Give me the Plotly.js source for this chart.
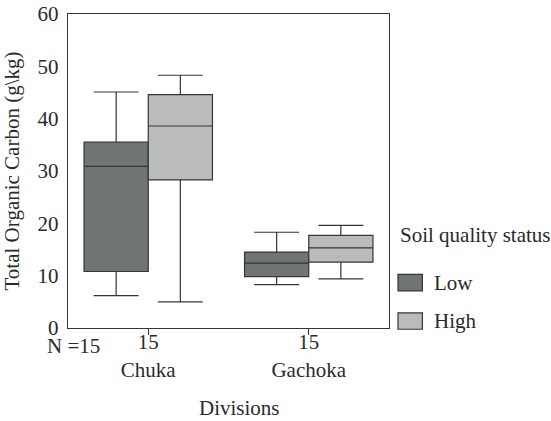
<!DOCTYPE html>
<html>
<head>
<meta charset="utf-8">
<script src="https://cdn.plot.ly/plotly-3.0.1.min.js"></script>
<style>html,body{margin:0;padding:0;background:#fff;}#chart{width:551px;height:421px;}</style>
</head>
<body>
<div id="chart"></div>
<script>
// Data
const divisions = ['Chuka', 'Gachoka'];
const nCounts = ['15', '15'];
const seriesNames = ['Low', 'High'];

const lowQ1 = [10.8, 9.8];
const lowMedian = [30.9, 12.4];
const lowQ3 = [35.5, 14.5];
const lowMin = [6.2, 8.3];
const lowMax = [45.1, 18.3];

const highQ1 = [28.3, 12.6];
const highMedian = [38.6, 15.3];
const highQ3 = [44.6, 17.7];
const highMin = [5.0, 9.4];
const highMax = [48.3, 19.6];

const yTicks = [0, 10, 20, 30, 40, 50, 60];

const lowColor = '#6f7571';
const highColor = '#b9bcba';
const lineColor = '#363636';
const fontFam = 'Liberation Serif, Times New Roman, serif';

const traces = [
  {
    type: 'box', name: seriesNames[0], x: divisions,
    q1: lowQ1, median: lowMedian, q3: lowQ3, lowerfence: lowMin, upperfence: lowMax,
    fillcolor: lowColor, line: {color: lineColor, width: 1.2},
    whiskerwidth: 0.7, showlegend: false, hoverinfo: 'skip'
  },
  {
    type: 'box', name: seriesNames[1], x: divisions,
    q1: highQ1, median: highMedian, q3: highQ3, lowerfence: highMin, upperfence: highMax,
    fillcolor: highColor, line: {color: lineColor, width: 1.2},
    whiskerwidth: 0.7, showlegend: false, hoverinfo: 'skip'
  }
];

const layout = {
  width: 551, height: 421,
  margin: {l: 68, r: 162, t: 14, b: 93},
  paper_bgcolor: '#ffffff', plot_bgcolor: '#ffffff',
  font: {family: fontFam, size: 21, color: '#2a2a2a'},
  boxmode: 'group', boxgap: 0.2, boxgroupgap: 0,
  showlegend: false,
  xaxis: {
    type: 'category',
    tickvals: divisions,
    ticktext: divisions.map((d, i) => nCounts[i] + '<br>' + d),
    showline: true, linecolor: lineColor, linewidth: 1.2, mirror: true,
    ticks: 'outside', ticklen: 6, tickcolor: lineColor,
    ticklabelstandoff: -11,
    showgrid: false, zeroline: false,
    tickfont: {family: fontFam, size: 21, color: '#2a2a2a'},
    range: [-0.5, 1.5]
  },
  yaxis: {
    range: [0, 60], tickvals: yTicks,
    showline: true, linecolor: lineColor, linewidth: 1.2, mirror: true,
    ticks: '', showgrid: false, zeroline: false,
    ticklabelstandoff: 4,
    tickfont: {family: fontFam, size: 21, color: '#2a2a2a'},
    title: {text: 'Total Organic Carbon (g\\kg)', font: {family: fontFam, size: 21, color: '#2a2a2a'}, standoff: 12}
  },
  shapes: [
    {type: 'rect', xref: 'paper', yref: 'paper', x0: 1.028, x1: 1.104, y0: 0.118, y1: 0.171,
     fillcolor: lowColor, line: {color: lineColor, width: 1.2}},
    {type: 'rect', xref: 'paper', yref: 'paper', x0: 1.028, x1: 1.104, y0: -0.004, y1: 0.048,
     fillcolor: highColor, line: {color: lineColor, width: 1.2}}
  ],
  annotations: [
    {text: 'Soil quality status', xref: 'paper', yref: 'paper', x: 1.027, y: 0.2955,
     xanchor: 'left', yanchor: 'middle', showarrow: false, font: {family: fontFam, size: 21, color: '#2a2a2a'}},
    {text: seriesNames[0], xref: 'paper', yref: 'paper', x: 1.134, y: 0.1434,
     xanchor: 'left', yanchor: 'middle', showarrow: false, font: {family: fontFam, size: 21, color: '#2a2a2a'}},
    {text: seriesNames[1], xref: 'paper', yref: 'paper', x: 1.134, y: 0.0223,
     xanchor: 'left', yanchor: 'middle', showarrow: false, font: {family: fontFam, size: 21, color: '#2a2a2a'}},
    {text: 'N =' + nCounts[0], xref: 'paper', yref: 'paper', x: 0.107, y: -0.056,
     xanchor: 'right', yanchor: 'middle', showarrow: false, font: {family: fontFam, size: 21, color: '#2a2a2a'}},
    {text: 'Divisions', xref: 'paper', yref: 'paper', x: 0.5335, y: -0.2535,
     xanchor: 'center', yanchor: 'middle', showarrow: false, font: {family: fontFam, size: 21, color: '#2a2a2a'}}
  ]
};

Plotly.newPlot('chart', traces, layout, {displayModeBar: false, staticPlot: true});
</script>
</body>
</html>
